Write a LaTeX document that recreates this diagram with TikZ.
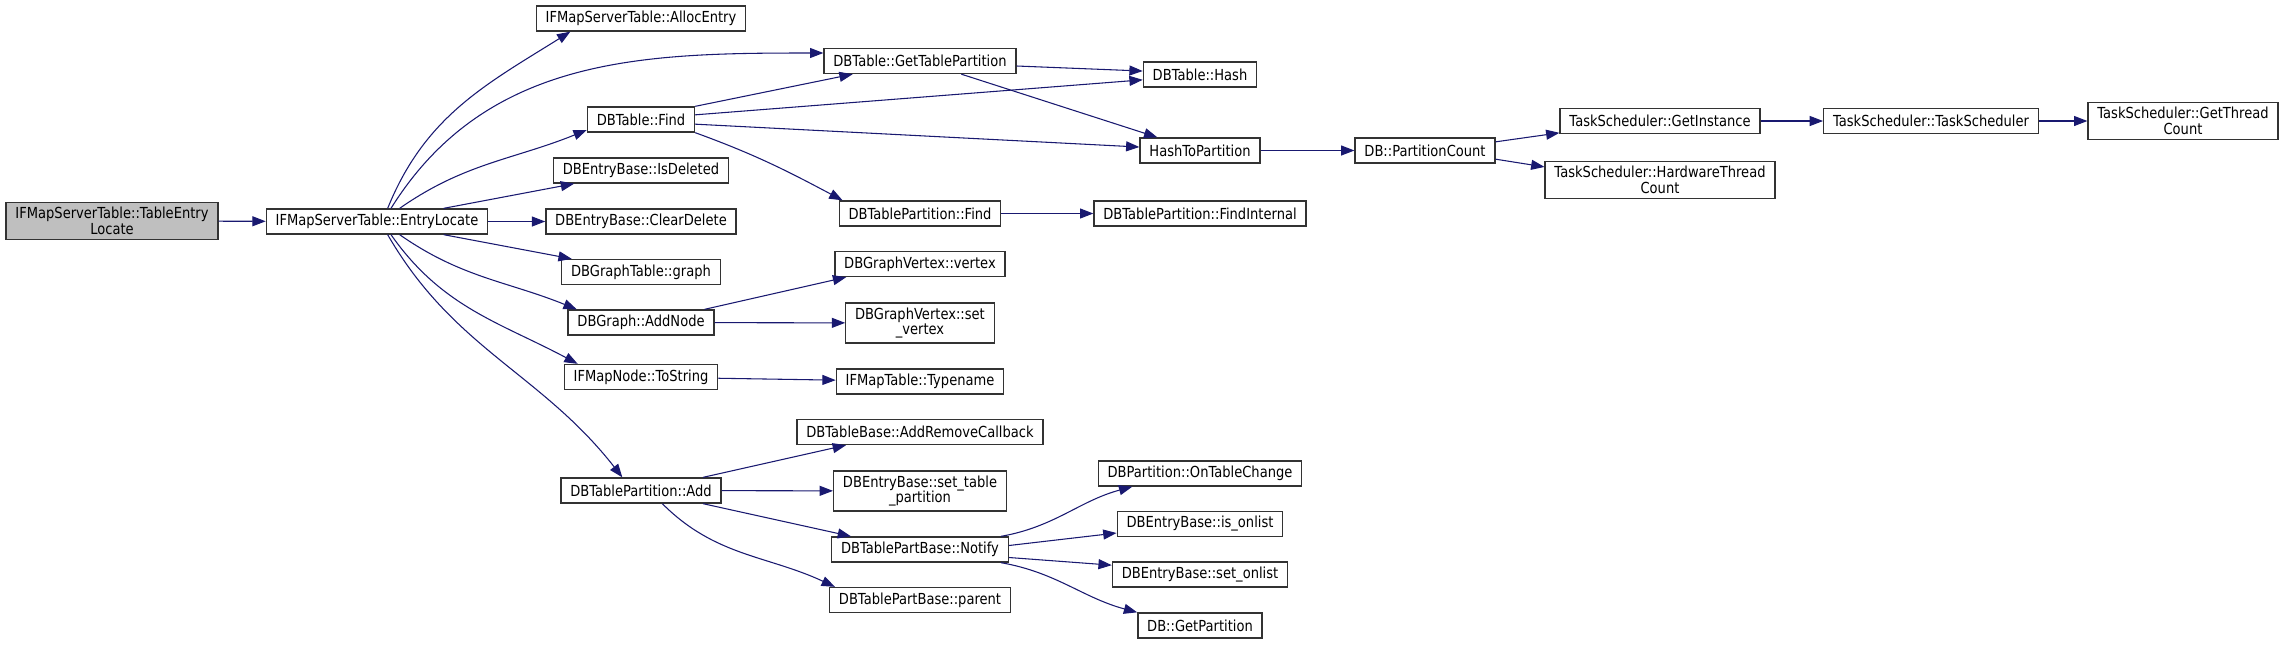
\documentclass[tikz,border=0pt]{standalone}
\usepackage{fontspec}
\setmainfont[FakeStretch=0.86]{DejaVu Sans}
\usetikzlibrary{arrows.meta}
\definecolor{edgeblue}{HTML}{191970}

\begin{document}
\begin{tikzpicture}[x=0.75pt,y=0.75pt,
  every node/.style={font=\fontsize{11.4}{11.6}\selectfont},
  fn/.style={draw=black!80,line width=1pt,fill=white,inner xsep=7pt,inner ysep=3.6pt,minimum height=18.75pt,align=center},
  call/.style={draw=edgeblue,line width=.8pt,-{Triangle[length=10pt,width=7.5pt]}}]
\useasboundingbox (0,0) rectangle (2285,-644);
% column 0 and 1
\node[fn,fill=black!25] (tel) at (112,-221) {IFMapServerTable::TableEntry\\Locate};
\node[fn] (entry) at (377,-221.5) {IFMapServerTable::EntryLocate};
% column 2
\node[fn] (alloc) at (641,-18.5) {IFMapServerTable::AllocEntry};
\node[fn] (find) at (641,-119.5) {DBTable::Find};
\node[fn] (isdel) at (641,-170.5) {DBEntryBase::IsDeleted};
\node[fn] (clrdel) at (641,-221.5) {DBEntryBase::ClearDelete};
\node[fn] (graph) at (641,-272) {DBGraphTable::graph};
\node[fn] (addnode) at (641,-322.5) {DBGraph::AddNode};
\node[fn] (tostr) at (641,-377) {IFMapNode::ToString};
\node[fn] (tpadd) at (641,-490.5) {DBTablePartition::Add};
% column 3
\node[fn] (gettp) at (920,-61) {DBTable::GetTablePartition};
\node[fn] (tpfind) at (920,-213.5) {DBTablePartition::Find};
\node[fn] (vertex) at (920,-264) {DBGraphVertex::vertex};
\node[fn] (setvtx) at (920,-323) {DBGraphVertex::set\\\_vertex};
\node[fn] (typename) at (920,-381.5) {IFMapTable::Typename};
\node[fn] (addrm) at (920,-432) {DBTableBase::AddRemoveCallback};
\node[fn] (settp) at (920,-491) {DBEntryBase::set\_table\\\_partition};
\node[fn] (notify) at (920,-549.5) {DBTablePartBase::Notify};
\node[fn] (parent) at (920,-600) {DBTablePartBase::parent};
% column 4
\node[fn] (hash) at (1200,-74.5) {DBTable::Hash};
\node[fn] (h2p) at (1200,-150.5) {HashToPartition};
\node[fn] (findint) at (1200,-213.5) {DBTablePartition::FindInternal};
\node[fn] (ontc) at (1200,-473.5) {DBPartition::OnTableChange};
\node[fn] (isonl) at (1200,-524) {DBEntryBase::is\_onlist};
\node[fn] (setonl) at (1200,-574.5) {DBEntryBase::set\_onlist};
\node[fn] (getpart) at (1200,-625.5) {DB::GetPartition};
% columns 5 to 8
\node[fn] (pcount) at (1425,-150.5) {DB::PartitionCount};
\node[fn] (getinst) at (1660,-121) {TaskScheduler::GetInstance};
\node[fn] (hwtc) at (1660,-180) {TaskScheduler::HardwareThread\\Count};
\node[fn] (tsched) at (1931,-121) {TaskScheduler::TaskScheduler};
\node[fn] (getthr) at (2183,-121) {TaskScheduler::GetThread\\Count};
% calls
\draw[call] (tel) -- (entry);
\draw[call] ([xshift=8pt]entry.north) to[out=68,in=212] ([xshift=26pt]alloc.south west);
\draw[call] ([xshift=10.5pt]entry.north) to[out=58,in=180] ([yshift=6pt]gettp.west);
\draw[call] ([xshift=17pt]entry.north) to[out=35,in=202] ([yshift=2pt]find.south west);
\draw[call] ([xshift=50pt]entry.north) -- ([xshift=16pt]isdel.south west);
\draw[call] (entry) -- (clrdel);
\draw[call] ([xshift=50pt]entry.south) -- ([xshift=8pt]graph.north west);
\draw[call] ([xshift=17pt]entry.south) to[out=-35,in=158] ([xshift=7pt]addnode.north west);
\draw[call] ([xshift=10.5pt]entry.south) to[out=-55,in=152] ([xshift=10.5pt]tostr.north west);
\draw[call] ([xshift=8pt]entry.south) to[out=-60,in=128] ([xshift=-14pt]tpadd.north);
\draw[call] (find.north east) -- ([xshift=22pt]gettp.south west);
\draw[call] ([yshift=3.5pt]find.east) -- ([yshift=-4pt]hash.west);
\draw[call] ([yshift=-3.5pt]find.east) -- ([yshift=2.6pt]h2p.west);
\draw[call] (find.south east) to[out=-20,in=152] ([xshift=3pt]tpfind.north west);
\draw[call] ([yshift=-3.75pt]gettp.east) -- ([yshift=2.6pt]hash.west);
\draw[call] ([xshift=31pt]gettp.south) -- ([xshift=-32pt]h2p.north);
\draw[call] (h2p) -- (pcount);
\draw[call] ([yshift=6.5pt]pcount.east) -- ([yshift=1pt]getinst.south west);
\draw[call] ([yshift=-6.5pt]pcount.east) -- ([yshift=-4.5pt]hwtc.north west);
\draw[call] (getinst) -- (tsched);
\draw[call] (tsched) -- (getthr);
\draw[call] (tpfind) -- (findint);
\draw[call] ([xshift=-7.5pt]addnode.north east) -- ([xshift=9pt]vertex.south west);
\draw[call] (addnode) -- (setvtx);
\draw[call] (tostr) -- (typename);
\draw[call] ([xshift=-14pt]tpadd.north east) -- ([xshift=-55.5pt]addrm.south);
\draw[call] (tpadd) -- (settp);
\draw[call] ([xshift=-14pt]tpadd.south east) -- ([xshift=15pt]notify.north west);
\draw[call] ([xshift=16pt]tpadd.south) to[out=-45,in=155] ([xshift=4.5pt]parent.north west);
\draw[call] ([xshift=-6pt]notify.north east) to[out=10,in=195] ([xshift=26pt]ontc.south west);
\draw[call] ([yshift=3pt]notify.east) -- ([yshift=-6.75pt]isonl.west);
\draw[call] ([yshift=-6pt]notify.east) -- ([yshift=7pt]setonl.west);
\draw[call] ([xshift=-6pt]notify.south east) to[out=-10,in=165] (getpart.north west);
\end{tikzpicture}
\end{document}
